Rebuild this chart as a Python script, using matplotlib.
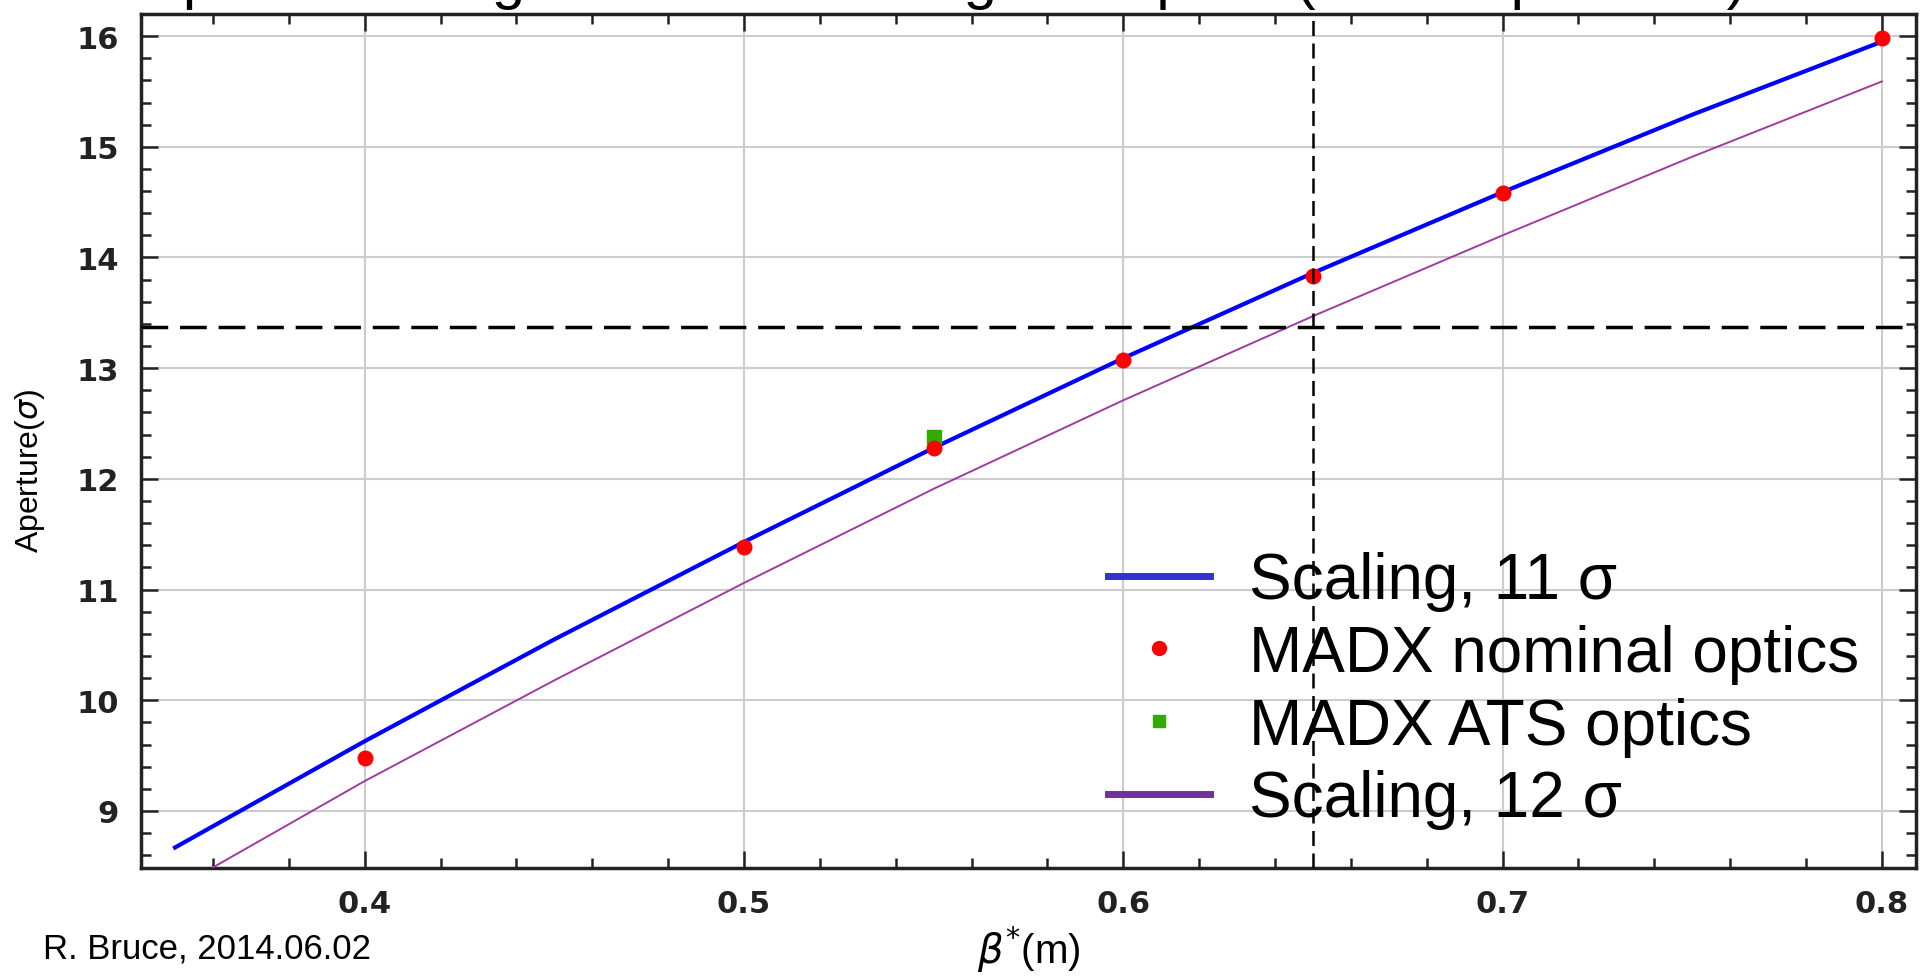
import numpy as np
import matplotlib
matplotlib.use('Agg')
import matplotlib.pyplot as plt
from matplotlib.lines import Line2D
from matplotlib.ticker import MultipleLocator
from matplotlib import font_manager

plt.rcParams['font.family'] = ['Liberation Sans', 'DejaVu Sans']
plt.rcParams['mathtext.fontset'] = 'dejavusans'

# 数据
beta_11 = [0.35, 0.40, 0.45, 0.50, 0.55, 0.60, 0.65, 0.70, 0.75, 0.80]
aper_11 = [8.67, 9.63, 10.55, 11.43, 12.28, 13.09, 13.86, 14.59, 15.29, 15.95]

beta_12 = [0.36, 0.40, 0.45, 0.50, 0.55, 0.60, 0.65, 0.70, 0.75, 0.80]
aper_12 = [8.49, 9.27, 10.18, 11.06, 11.91, 12.71, 13.47, 14.20, 14.91, 15.59]

beta_nominal = [0.40, 0.50, 0.55, 0.60, 0.65, 0.70, 0.80]
aper_nominal = [9.48, 11.38, 12.28, 13.07, 13.83, 14.58, 15.98]

beta_ats = [0.55]
aper_ats = [12.38]

h_level = 13.37
v_level = 0.65

title_text = 'Aperture margin to increase angle in optics (11 \u03c3 separation)'
legend_labels = ['Scaling, 11 \u03c3', 'MADX nominal optics', 'MADX ATS optics', 'Scaling, 12 \u03c3']

# 窄字体 (如果有的话)
try:
    font_manager.findfont('Liberation Sans Narrow', fallback_to_default=False)
    narrow = 'Liberation Sans Narrow'
    ylab_size, xlab_size = 28, 32
except Exception:
    narrow = 'Liberation Sans'
    ylab_size, xlab_size = 23, 29

fig = plt.figure(figsize=(19.2, 9.78), dpi=100)
ax = fig.add_axes([0.0734, 0.1115, 0.9245, 0.8732])

# 网格
ax.grid(True, which='major', color='#cccccc', linewidth=1.5)
ax.set_axisbelow(True)

ax.plot(beta_11, aper_11, color='#0000ff', linewidth=3, zorder=3)
ax.plot(beta_12, aper_12, color='#a03ca0', linewidth=1.4, zorder=3)
ax.plot(beta_ats, aper_ats, linestyle='none', marker='s', markersize=10,
        color='#33aa00', zorder=4)
ax.plot(beta_nominal, aper_nominal, linestyle='none', marker='o', markersize=10.5,
        color='#ff0000', zorder=5)

ax.axhline(h_level, color='black', linewidth=2.5, dashes=(7.7, 3.4), zorder=6)
ax.axvline(v_level, color='black', linewidth=1.8, dashes=(6, 3), zorder=6)

ax.set_xlim(0.341, 0.809)
ax.set_ylim(8.485, 16.2)

ax.xaxis.set_major_locator(MultipleLocator(0.1))
ax.xaxis.set_minor_locator(MultipleLocator(0.02))
ax.yaxis.set_major_locator(MultipleLocator(1))
ax.yaxis.set_minor_locator(MultipleLocator(0.2))
ax.tick_params(which='both', direction='in', top=True, right=True, width=1.8, color='#222222')
ax.tick_params(which='major', length=12)
ax.tick_params(which='minor', length=7)
ax.tick_params(axis='y', pad=16)
ax.tick_params(axis='x', pad=15)
for lab in ax.get_xticklabels() + ax.get_yticklabels():
    lab.set_family('DejaVu Sans')
    lab.set_fontweight('bold')
    lab.set_fontsize(22)
    lab.set_color('#222222')

for sp in ax.spines.values():
    sp.set_linewidth(2.5)
    sp.set_color('#222222')

ax.set_xlabel(r'$\beta^{*}$(m)', fontsize=xlab_size, family=narrow)
ax.xaxis.set_label_coords(0.50, -0.066)
ax.set_ylabel(r'Aperture($\sigma$)', fontsize=ylab_size, family=narrow)
ax.yaxis.set_label_coords(-0.0625, 0.466)
ax.yaxis.label.set_va('center')

# 图例
handles = [
    Line2D([], [], color='#3333cc', linewidth=5),
    Line2D([], [], linestyle='none', marker='o', markersize=10, color='#ff0000'),
    Line2D([], [], linestyle='none', marker='s', markersize=9, color='#33aa00'),
    Line2D([], [], color='#7030a0', linewidth=5),
]
ax.legend(handles, legend_labels, loc='upper left', bbox_to_anchor=(1108 / 1920, 1 - 552 / 978),
          bbox_transform=fig.transFigure, frameon=False, fontsize=46, borderpad=0,
          borderaxespad=0, handlelength=1.6, handletextpad=0.6, labelspacing=0.2)

fig.text(143 / 1920, 1 + 2 / 978, title_text, fontsize=43, ha='left', va='baseline')
fig.text(43 / 1920, 1 - 949 / 978, 'R. Bruce, 2014.06.02', fontsize=25, ha='left', va='center')

fig.savefig('out.png', dpi=100)
